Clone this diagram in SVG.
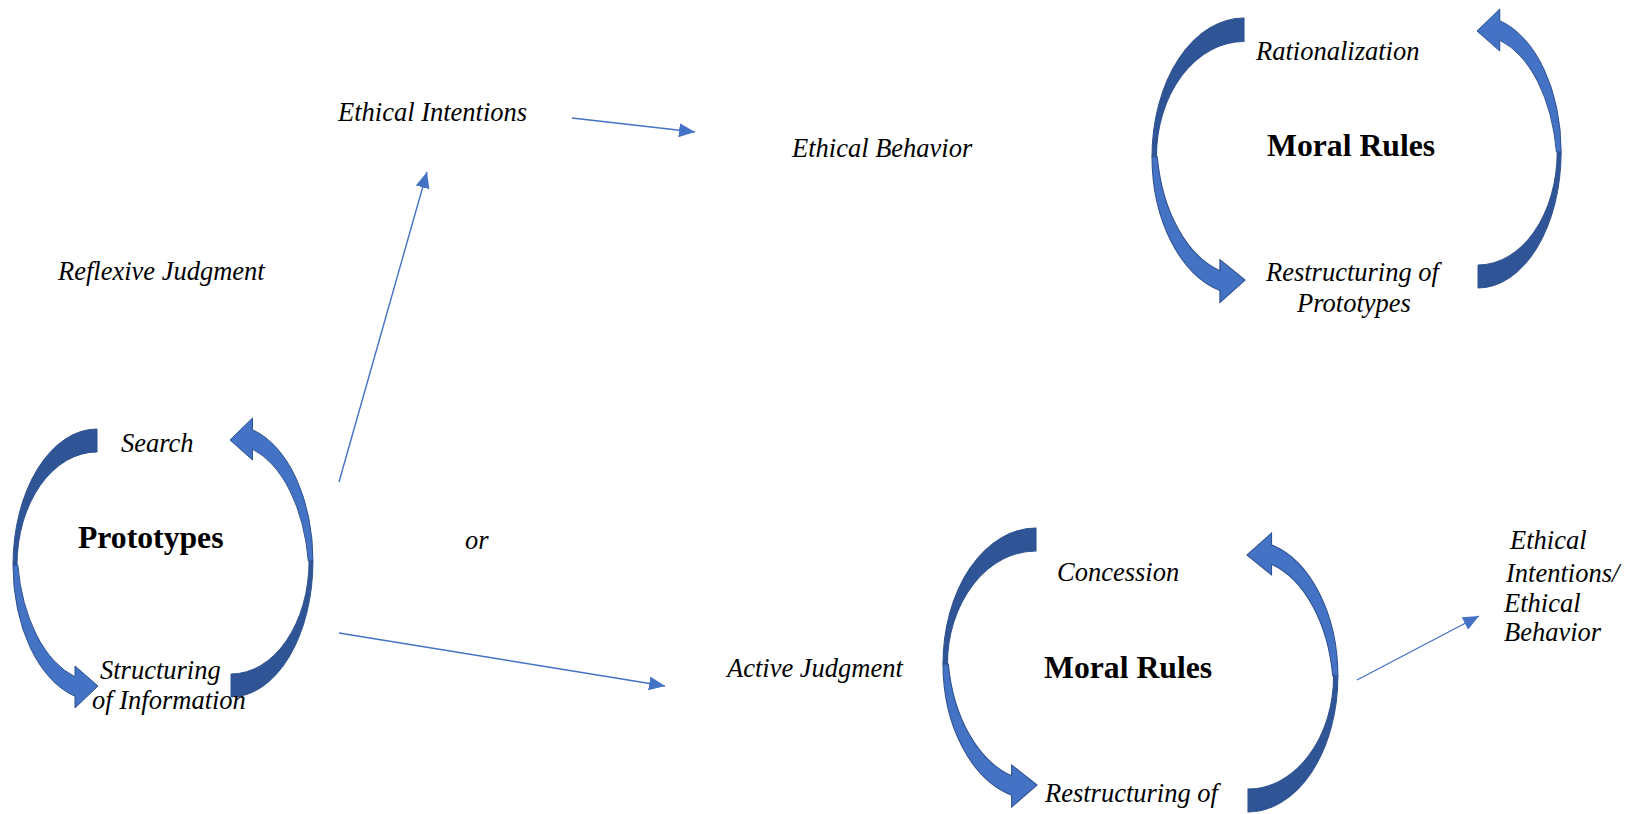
<svg xmlns="http://www.w3.org/2000/svg" xmlns:xlink="http://www.w3.org/1999/xlink" width="1636" height="814" viewBox="0 0 1636 814">
<style>
.it{font-family:"Liberation Serif","Times New Roman",serif;font-style:italic;font-size:26.5px;fill:#000}
.bd{font-family:"Liberation Serif","Times New Roman",serif;font-weight:bold;font-size:31.7px;fill:#000}
.back{fill:#2F5597;stroke:#2F528F;stroke-width:1}
.front{fill:#4472C4;stroke:#2F528F;stroke-width:1}
.con{fill:none;stroke:#4472C4;stroke-width:1.4;marker-end:url(#ah)}
</style>
<defs>
<marker id="ah" viewBox="0 0 16 14" refX="16" refY="7" markerWidth="16" markerHeight="14" orient="auto" markerUnits="userSpaceOnUse">
<path d="M0,0 L16,7 L0,14 Z" fill="#4472C4"/>
</marker>
<g id="arcL">
<path class="back" d="M0,0 A84,136 0 0 0 -84,136 L-80,136 A80,113 0 0 1 0,23 Z"/>
<path class="front" d="M-84,136 A84,136 0 0 0 -22,267.3 L-22,279 L1,257 L-22,237 L-22,247.8 A80,136 0 0 1 -79.2,136 Z"/>
</g>
</defs>
<rect width="1636" height="814" fill="#fff"/>

<g id="connectors">
<path class="con" d="M339,482 L427,172"/>
<path class="con" d="M572,118 L695,132"/>
<path class="con" d="M339,633 L665,686"/>
<path class="con" d="M1357,680 L1479,616"/>
</g>

<g id="prototypes-cycle">
<use xlink:href="#arcL" href="#arcL" transform="translate(97,429)"/>
<use xlink:href="#arcL" href="#arcL" transform="translate(231,697) scale(-0.976,-1)"/>
<text class="it" x="121" y="452">Search</text>
<text class="bd" x="78" y="548">Prototypes</text>
<text class="it" x="100" y="679">Structuring</text>
<text class="it" x="92" y="709">of Information</text>
</g>

<g id="moral-rules-top">
<use xlink:href="#arcL" href="#arcL" transform="translate(1244,18) scale(1.095,1.02)"/>
<use xlink:href="#arcL" href="#arcL" transform="translate(1478,288) scale(-0.99,-1)"/>
<text class="it" x="1256" y="60">Rationalization</text>
<text class="bd" x="1267" y="156">Moral Rules</text>
<text class="it" x="1266" y="281">Restructuring of</text>
<text class="it" x="1297" y="312">Prototypes</text>
</g>

<g id="moral-rules-bottom">
<use xlink:href="#arcL" href="#arcL" transform="translate(1036,528) scale(1.107,1)"/>
<use xlink:href="#arcL" href="#arcL" transform="translate(1248,812) scale(-1.07,-1)"/>
<text class="it" x="1057" y="581">Concession</text>
<text class="bd" x="1044" y="678">Moral Rules</text>
<text class="it" x="1045" y="802">Restructuring of</text>
</g>

<g id="ethical-intentions"><text class="it" x="338" y="121">Ethical Intentions</text></g>
<g id="ethical-behavior"><text class="it" x="792" y="157">Ethical Behavior</text></g>
<g id="reflexive-judgment"><text class="it" x="58" y="280">Reflexive Judgment</text></g>
<g id="or-label"><text class="it" x="465" y="549">or</text></g>
<g id="active-judgment"><text class="it" x="727" y="677">Active Judgment</text></g>
<g id="ethical-outcome">
<text class="it" x="1510" y="549">Ethical</text>
<text class="it" x="1506" y="582">Intentions/</text>
<text class="it" x="1504" y="612">Ethical</text>
<text class="it" x="1504" y="641">Behavior</text>
</g>
</svg>
